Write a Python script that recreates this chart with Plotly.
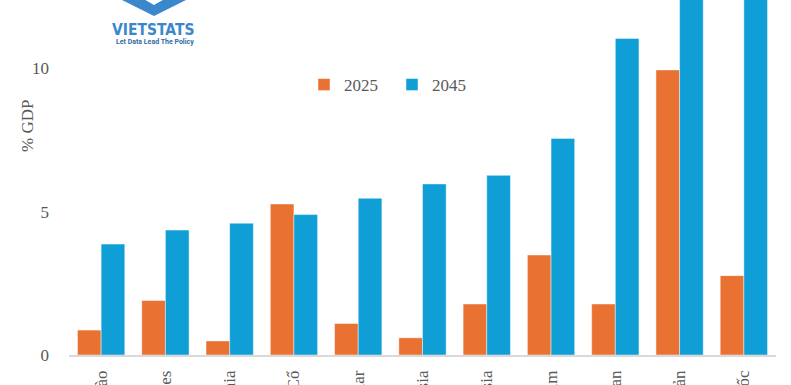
import plotly.graph_objects as go

categories = ["Lào", "Philippines", "Campuchia", "Mông Cổ", "Myanmar", "Malaysia",
              "Indonesia", "Việt Nam", "Thái Lan", "Nhật Bản", "Hàn Quốc"]
values_2025 = [0.87, 1.9, 0.49, 5.27, 1.1, 0.6, 1.78, 3.49, 1.78, 9.95, 2.77]
values_2045 = [3.87, 4.36, 4.6, 4.9, 5.47, 5.97, 6.27, 7.56, 11.05, 13.6, 15.2]
y_ticks = [0, 5, 10]

ORANGE = "#E97132"
BLUE = "#0F9ED5"
TXT = "#595959"
FONT = "Liberation Serif, DejaVu Serif, serif"

W, H = 791, 385
L, R, T, B = 69, 15, 0, 30
PW, PH = W - L - R, H - T - B

def px(x):
    return (x - L) / PW

def py(y):
    return (H - B - y) / PH

fig = go.Figure()
fig.add_bar(x=categories, y=values_2025, name="2025", marker_color=ORANGE,
            marker_line=dict(color="rgba(255,255,255,0.45)", width=1))
fig.add_bar(x=categories, y=values_2045, name="2045", marker_color=BLUE,
            marker_line=dict(color="rgba(255,255,255,0.45)", width=1))

# logo chevron
outer = [(116, -3), (154, 16), (192, -3)]
inner = [(140, -3), (154, 5), (168, -3)]
path = "M{},{} L{},{} L{},{} L{},{} L{},{} L{},{} Z".format(
    px(outer[0][0]), py(outer[0][1]), px(outer[1][0]), py(outer[1][1]),
    px(outer[2][0]), py(outer[2][1]), px(inner[2][0]), py(inner[2][1]),
    px(inner[1][0]), py(inner[1][1]), px(inner[0][0]), py(inner[0][1]))

fig.update_layout(
    width=W, height=H,
    margin=dict(l=L, r=R, t=T, b=B, autoexpand=False),
    paper_bgcolor="white", plot_bgcolor="white",
    barmode="group", bargap=0.264, bargroupgap=0,
    font=dict(family=FONT, size=17, color=TXT),
    showlegend=True,
    legend=dict(orientation="h", x=px(304), y=py(85), xanchor="left", yanchor="middle",
                font=dict(family=FONT, size=17, color=TXT), entrywidth=43,
                bgcolor="rgba(0,0,0,0)"),
    xaxis=dict(showline=True, linecolor="#D9D9D9", linewidth=1.5, tickangle=-90,
               ticks="", showgrid=False, tickfont=dict(family=FONT, size=17, color=TXT),
               ticklabelstandoff=7, automargin=False),
    yaxis=dict(range=[0, 12.39], tickvals=y_ticks, showgrid=False, zeroline=False,
               showline=False, ticks="", tickfont=dict(family=FONT, size=17, color=TXT),
               ticklabelstandoff=19, automargin=False),
    shapes=[dict(type="path", xref="paper", yref="paper", path=path,
                 fillcolor="#3B87CB", line=dict(width=0), layer="above")],
    annotations=[
        dict(text="% GDP", xref="paper", yref="paper", x=px(28), y=py(126),
             showarrow=False, textangle=-90, font=dict(family=FONT, size=17, color=TXT),
             xanchor="center", yanchor="middle"),
        dict(text="<b>VIETSTATS</b>", xref="paper", yref="paper", x=px(153), y=py(30),
             showarrow=False, xanchor="center", yanchor="middle",
             font=dict(family="DejaVu Sans Condensed, Liberation Sans Narrow, Roboto, sans-serif",
                       size=15.5, color="#3B87CB")),
        dict(text="<b>Let Data Lead The Policy</b>", xref="paper", yref="paper",
             x=px(155), y=py(42), showarrow=False, xanchor="center", yanchor="middle",
             font=dict(family="Liberation Sans Narrow, Roboto, sans-serif", size=7,
                       color="#2E6DA8")),
    ],
)

fig.write_html("out.html", post_script="document.body.style.margin='0';",
               config={"displayModeBar": False})
